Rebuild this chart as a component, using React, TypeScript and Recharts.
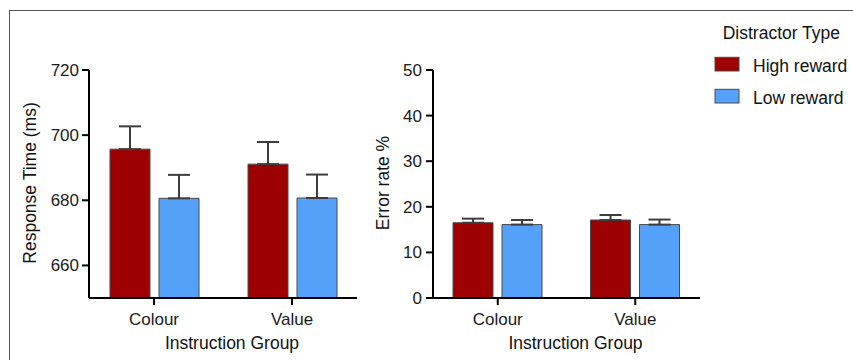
import React from 'react';
import { BarChart, Bar, XAxis, YAxis, ErrorBar, Legend } from 'recharts';

const groups = ['Colour', 'Value'];
const seriesNames = ['High reward', 'Low reward'];
const legendTitle = 'Distractor Type';
const xTitle = 'Instruction Group';
const rtTitle = 'Response Time (ms)';
const erTitle = 'Error rate %';

const rtHigh = [695.7, 691.1];
const rtHighErr = [7.0, 6.8];
const rtLow = [680.6, 680.7];
const rtLowErr = [7.2, 7.2];
const rtTicks = [660, 680, 700, 720];
const rtDomain = [650, 720];

const erHigh = [16.5, 17.1];
const erHighErr = [0.9, 1.1];
const erLow = [16.1, 16.1];
const erLowErr = [1.0, 1.1];
const erTicks = [0, 10, 20, 30, 40, 50];
const erDomain = [0, 50];

const HIGH = '#9c0000';
const LOW = '#55a1fa';
const EDGE = '#4a4a4a';
const font = '"Liberation Sans", Arial, Helvetica, sans-serif';

const rtData = groups.map((g, i) => ({
  group: g,
  high: rtHigh[i],
  highErr: [0, rtHighErr[i]],
  low: rtLow[i],
  lowErr: [0, rtLowErr[i]],
}));
const erData = groups.map((g, i) => ({
  group: g,
  high: erHigh[i],
  highErr: [0, erHighErr[i]],
  low: erLow[i],
  lowErr: [0, erLowErr[i]],
}));

const YTitle = (props: any) => {
  const { viewBox, title, baseX } = props;
  const cy = viewBox.y + viewBox.height / 2 - 1;
  return (
    <text
      x={baseX}
      y={cy}
      transform={`rotate(-90 ${baseX} ${cy})`}
      textAnchor="middle"
      fontSize={17.5}
      fill="#111"
      fontFamily={font}
    >
      {title}
    </text>
  );
};

const XTitle = (props: any) => {
  const { viewBox, title } = props;
  const cx = viewBox.x + viewBox.width / 2 + 9;
  return (
    <text x={cx} y={349} textAnchor="middle" fontSize={17.5} fill="#111" fontFamily={font}>
      {title}
    </text>
  );
};

const LegendBox = (props: any) => {
  const payload = props.payload || [];
  return (
    <svg width={141} height={100} style={{ display: 'block', overflow: 'visible' }}>
      <text x={10.7} y={24} fontSize={17.5} fill="#111" fontFamily={font}>
        {legendTitle}
      </text>
      {payload.map((p: any, i: number) => (
        <g key={i}>
          <rect x={3} y={42.3 + 32 * i} width={24} height={13.7} fill={p.color} stroke={EDGE} strokeWidth={1} />
          <text x={41} y={56.5 + 32 * i} fontSize={17.5} fill="#111" fontFamily={font}>
            {p.value}
          </text>
        </g>
      ))}
    </svg>
  );
};

const axisLine = { stroke: '#000', strokeWidth: 2 };
const tickStyle = { fill: '#1a1a1a', fontSize: 17, fontFamily: font };

function renderSeries() {
  return [
    <Bar key="h" dataKey="high" name={seriesNames[0]} fill={HIGH} stroke={EDGE} strokeWidth={1} isAnimationActive={false}>
      <ErrorBar dataKey="highErr" direction="y" width={11} stroke="#3d3d3d" strokeWidth={2} isAnimationActive={false} />
    </Bar>,
    <Bar key="l" dataKey="low" name={seriesNames[1]} fill={LOW} stroke={EDGE} strokeWidth={1} isAnimationActive={false}>
      <ErrorBar dataKey="lowErr" direction="y" width={11} stroke="#3d3d3d" strokeWidth={2} isAnimationActive={false} />
    </Bar>,
  ];
}

export default function App() {
  return (
    <div
      style={{
        position: 'absolute',
        left: 0,
        top: 0,
        width: 853,
        height: 360,
        overflow: 'hidden',
        background: '#fff',
        fontFamily: font,
      }}
    >
      <div
        style={{
          position: 'absolute',
          left: 9,
          top: 10,
          width: 1000,
          height: 1000,
          borderLeft: '1.5px solid #555',
          borderTop: '1.5px solid #555',
        }}
      />
      <div style={{ position: 'absolute', left: 0, top: 0 }}>
        <BarChart
          width={380}
          height={360}
          data={rtData}
          margin={{ top: 70, right: 23, bottom: 0, left: 0 }}
          barSize={40}
          barGap={9}
        >
          <XAxis
            dataKey="group"
            height={62}
            padding={{ left: -4, right: -4 }}
            axisLine={axisLine}
            tickLine={axisLine}
            tickSize={7}
            tickMargin={8}
            tick={tickStyle}
            label={<XTitle title={xTitle} />}
          />
          <YAxis
            width={89}
            domain={rtDomain}
            ticks={rtTicks}
            allowDataOverflow
            axisLine={axisLine}
            tickLine={axisLine}
            tickSize={7}
            tickMargin={3}
            tick={tickStyle}
            label={<YTitle title={rtTitle} baseX={36} />}
          />
          {renderSeries()}
        </BarChart>
      </div>
      <div style={{ position: 'absolute', left: 340, top: 0 }}>
        <BarChart
          width={513}
          height={360}
          data={erData}
          margin={{ top: 70, right: 153, bottom: 0, left: 0 }}
          barSize={40}
          barGap={9}
        >
          <XAxis
            dataKey="group"
            height={62}
            padding={{ left: -4, right: -4 }}
            axisLine={axisLine}
            tickLine={axisLine}
            tickSize={7}
            tickMargin={8}
            tick={tickStyle}
            label={<XTitle title={xTitle} />}
          />
          <YAxis
            width={93}
            domain={erDomain}
            ticks={erTicks}
            axisLine={axisLine}
            tickLine={axisLine}
            tickSize={7}
            tickMargin={4}
            tick={tickStyle}
            label={<YTitle title={erTitle} baseX={48.5} />}
          />
          <Legend
            layout="vertical"
            align="center"
            verticalAlign="middle"
            content={<LegendBox />}
            wrapperStyle={{ position: 'absolute', left: 372, top: 15, width: 141, height: 100 }}
          />
          {renderSeries()}
        </BarChart>
      </div>
    </div>
  );
}
